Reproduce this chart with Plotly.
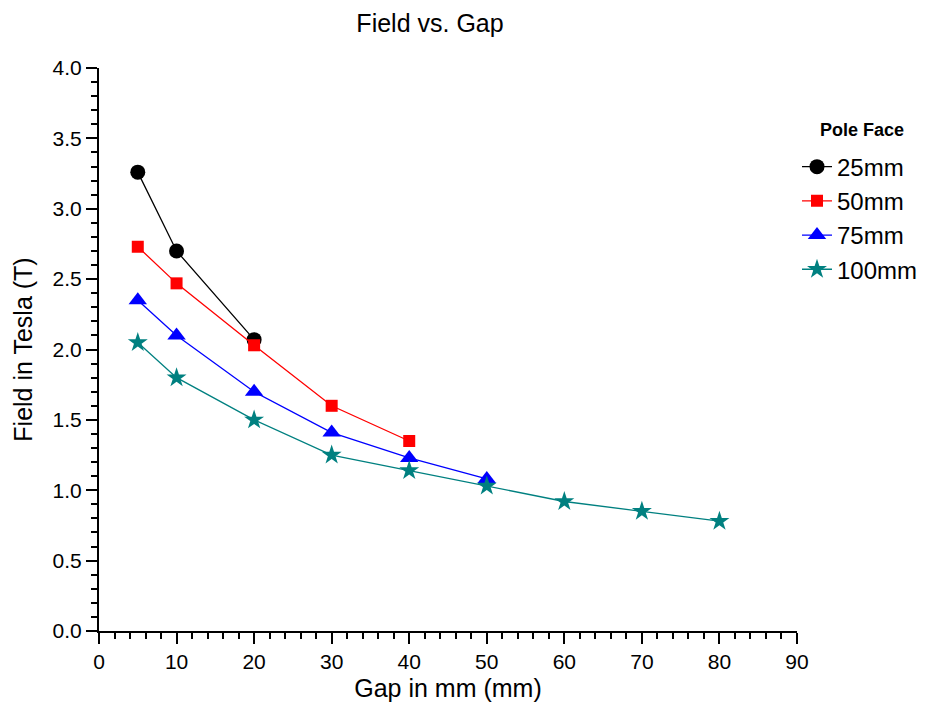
import plotly.graph_objects as go

# Gap (mm) and measured field (T) for each pole-face size
gap_25 = [5, 10, 20]
field_25 = [3.26, 2.70, 2.07]

gap_50 = [5, 10, 20, 30, 40]
field_50 = [2.73, 2.47, 2.03, 1.60, 1.35]

gap_75 = [5, 10, 20, 30, 40, 50]
field_75 = [2.35, 2.10, 1.70, 1.41, 1.23, 1.08]

gap_100 = [5, 10, 20, 30, 40, 50, 60, 70, 80]
field_100 = [2.05, 1.80, 1.50, 1.25, 1.14, 1.03, 0.92, 0.85, 0.78]

series = [
    ("25mm", gap_25, field_25, "#000000", "circle", 15),
    ("50mm", gap_50, field_50, "#FF0000", "square", 12),
    ("75mm", gap_75, field_75, "#0000FF", "triangle-up", 16),
    ("100mm", gap_100, field_100, "#008080", "star", 15),
]

FONT = "Liberation Sans, Arial, sans-serif"

fig = go.Figure()
for name, xs, ys, color, symbol, size in series:
    fig.add_trace(go.Scatter(
        x=xs, y=ys, name=name, mode="lines+markers",
        line=dict(color=color, width=1.3),
        marker=dict(symbol=symbol, size=size, color=color, line=dict(width=0)),
    ))

axis_common = dict(
    showgrid=False, zeroline=False,
    showline=True, linecolor="black", linewidth=2,
    ticks="outside", ticklen=11, tickwidth=2, tickcolor="black",
    tickfont=dict(family=FONT, size=21, color="black"),
)

fig.update_layout(
    width=935, height=715,
    margin=dict(l=99, r=138, t=68, b=84, autoexpand=False),
    paper_bgcolor="white", plot_bgcolor="white",
    title=dict(text="Field vs. Gap", x=430 / 935, xanchor="center",
               y=1 - 23 / 715, yanchor="middle",
               font=dict(family=FONT, size=25, color="black")),
    xaxis=dict(
        range=[0, 90], dtick=10, tick0=0,
        minor=dict(dtick=2, ticks="outside", ticklen=6, tickwidth=2, tickcolor="black"),
        title=dict(text="Gap in mm (mm)", standoff=7,
                   font=dict(family=FONT, size=25, color="black")),
        **axis_common,
    ),
    yaxis=dict(
        range=[0, 4.0], dtick=0.5, tick0=0, tickformat=".1f",
        minor=dict(dtick=0.1, ticks="outside", ticklen=6, tickwidth=2, tickcolor="black"),
        title=dict(text="Field in Tesla (T)", standoff=13,
                   font=dict(family=FONT, size=25, color="black")),
        **axis_common,
    ),
    # frame on the top and right with short ticks only
    xaxis2=dict(
        overlaying="x", side="top", range=[0, 90], showgrid=False, zeroline=False,
        showline=True, linecolor="black", linewidth=2, showticklabels=False,
        ticks="inside", dtick=2, ticklen=3, tickwidth=1, tickcolor="#888888",
    ),
    yaxis2=dict(
        overlaying="y", side="right", range=[0, 4.0], showgrid=False, zeroline=False,
        showline=True, linecolor="black", linewidth=2, showticklabels=False,
        ticks="outside", dtick=0.1, ticklen=3, tickwidth=2, tickcolor="black",
    ),
    legend=dict(
        x=1.0, xanchor="left", y=0.864, yanchor="top",
        bgcolor="rgba(0,0,0,0)",
        font=dict(family=FONT, size=24, color="black"),
        tracegroupgap=0, itemwidth=30,
    ),
    showlegend=True,
    annotations=[dict(
        text="<b>Pole Face</b>", xref="paper", yref="paper",
        x=1 + (862 - 797) / 698, y=(631 - 130) / 563,
        xanchor="center", yanchor="middle", showarrow=False,
        font=dict(family=FONT, size=18, color="black"),
    )],
)

fig.write_html("out.html")
